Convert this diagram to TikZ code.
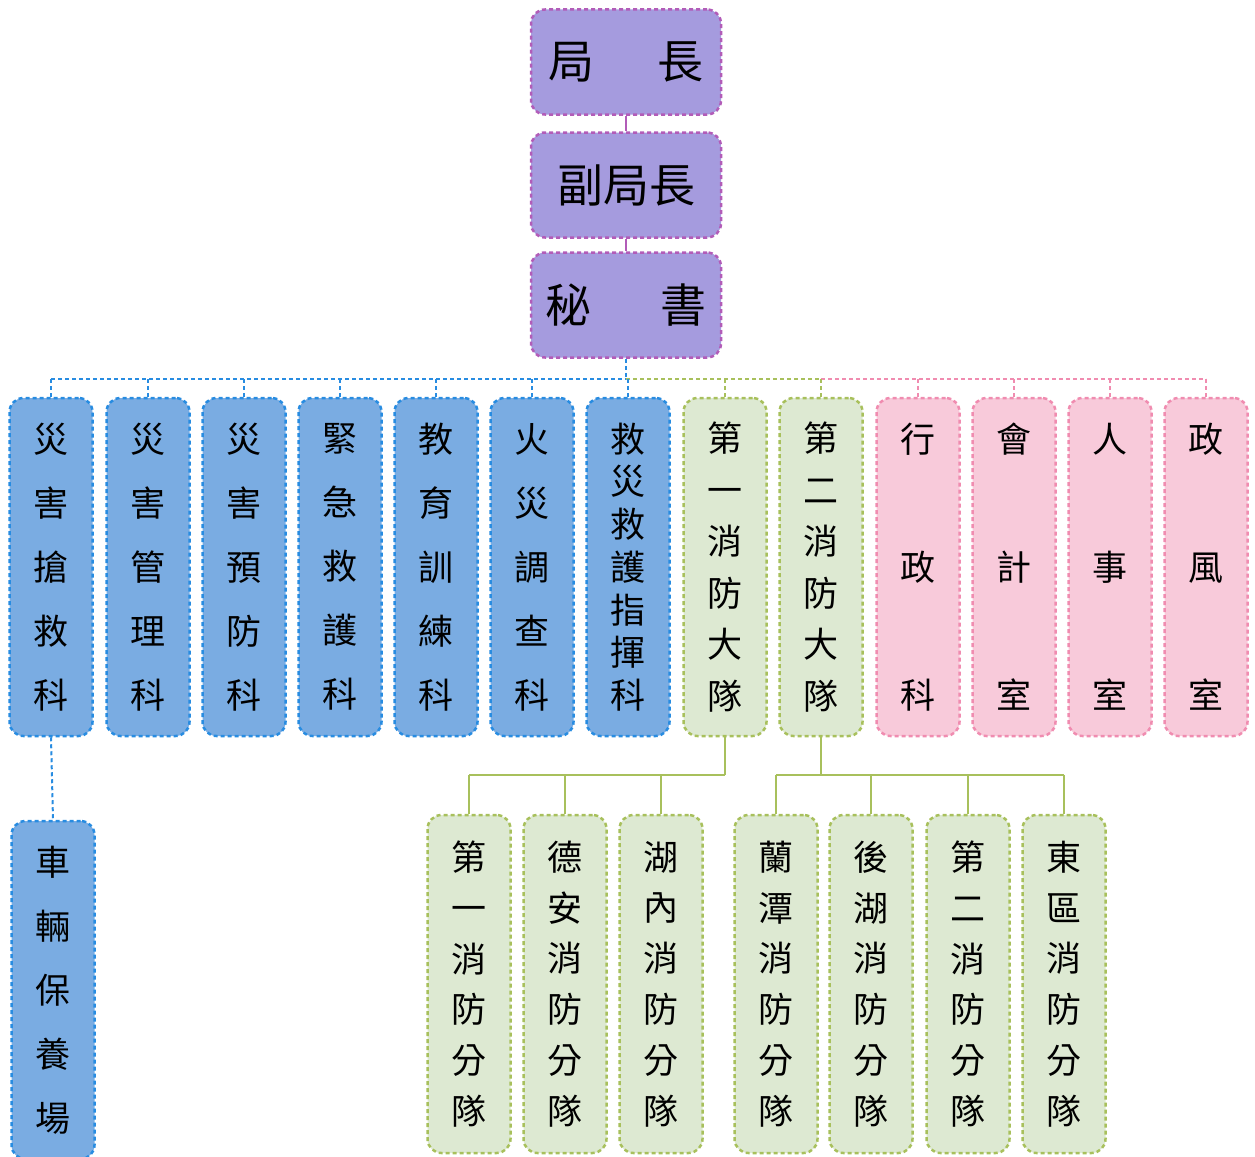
\documentclass[tikz,border=0pt]{standalone}
\usepackage{fontspec}
\newfontfamily\cjk{Noto Sans CJK TC}
\definecolor{purpleFill}{RGB}{165,155,222}
\definecolor{purpleLine}{RGB}{178,92,184}
\definecolor{blueFill}{RGB}{122,172,226}
\definecolor{blueLine}{RGB}{40,140,225}
\definecolor{greenFill}{RGB}{221,233,210}
\definecolor{greenLine}{RGB}{168,192,92}
\definecolor{pinkFill}{RGB}{248,202,218}
\definecolor{pinkLine}{RGB}{240,140,176}
\begin{document}
\begin{tikzpicture}[x=1pt, y=-1pt]
    \tikzstyle{box_base} = [rounded corners=14pt, dash pattern=on 4pt off 3pt, line width=2.5pt, inner sep=0pt, align=center]
    \tikzstyle{box_head} = [box_base, draw=purpleLine, fill=purpleFill, minimum width=190pt, minimum height=105pt, font=\cjk\fontsize{46}{50}\selectfont]
    \tikzstyle{col_base} = [box_base, minimum width=83pt, minimum height=338pt, font=\cjk\fontsize{35}{64}\selectfont]
    \tikzstyle{col_blue} = [col_base, draw=blueLine, fill=blueFill]
    \tikzstyle{col_green} = [col_base, draw=greenLine, fill=greenFill]
    \tikzstyle{col_pink} = [col_base, draw=pinkLine, fill=pinkFill]
    \tikzstyle{edge_blue} = [draw=blueLine, line width=2pt, dash pattern=on 4pt off 3pt]
    \tikzstyle{edge_green} = [draw=greenLine, line width=2pt, dash pattern=on 4pt off 3pt]
    \tikzstyle{edge_pink} = [draw=pinkLine, line width=2pt, dash pattern=on 4pt off 3pt]
    \tikzstyle{edge_squad} = [draw=greenLine, line width=2pt]
    \tikzstyle{edge_head} = [draw=purpleLine, line width=2pt]

    \useasboundingbox (0,0) rectangle (1255,1156);

    % chief, deputy, secretary
    \node[box_head] (h1) at (626,62) {局\hspace{64pt}長};
    \node[box_head] (h2) at (626,185) {副局長};
    \node[box_head] (h3) at (626,305) {秘\hspace{70pt}書};

    % divisions and brigades
    \node[col_blue] (d1) at (51,567) {災\\害\\搶\\救\\科};
    \node[col_blue] (d2) at (148,567) {災\\害\\管\\理\\科};
    \node[col_blue] (d3) at (244,567) {災\\害\\預\\防\\科};
    \node[col_blue] (d4) at (340,567) {緊\\急\\救\\護\\科};
    \node[col_blue] (d5) at (436,567) {教\\育\\訓\\練\\科};
    \node[col_blue] (d6) at (532,567) {火\\災\\調\\查\\科};
    \node[col_blue, font=\cjk\fontsize{35}{42.7}\selectfont] (d7) at (628,567) {救\\災\\救\\護\\指\\揮\\科};
    \node[col_green, font=\cjk\fontsize{35}{51.6}\selectfont] (d8) at (725,567) {第\\一\\消\\防\\大\\隊};
    \node[col_green, font=\cjk\fontsize{35}{51.6}\selectfont] (d9) at (821,567) {第\\二\\消\\防\\大\\隊};
    \node[col_pink, font=\cjk\fontsize{35}{128}\selectfont] (d10) at (918,567) {行\\政\\科};
    \node[col_pink, font=\cjk\fontsize{35}{128}\selectfont] (d11) at (1014,567) {會\\計\\室};
    \node[col_pink, font=\cjk\fontsize{35}{128}\selectfont] (d12) at (1110,567) {人\\事\\室};
    \node[col_pink, font=\cjk\fontsize{35}{128}\selectfont] (d13) at (1206,567) {政\\風\\室};

    % vehicle yard and squads
    \node[col_blue] (v1) at (53,990) {車\\輛\\保\\養\\場};
    \node[col_green, font=\cjk\fontsize{35}{50.8}\selectfont] (s1) at (469,984) {第\\一\\消\\防\\分\\隊};
    \node[col_green, font=\cjk\fontsize{35}{50.8}\selectfont] (s2) at (565,984) {德\\安\\消\\防\\分\\隊};
    \node[col_green, font=\cjk\fontsize{35}{50.8}\selectfont] (s3) at (661,984) {湖\\內\\消\\防\\分\\隊};
    \node[col_green, font=\cjk\fontsize{35}{50.8}\selectfont] (s4) at (776,984) {蘭\\潭\\消\\防\\分\\隊};
    \node[col_green, font=\cjk\fontsize{35}{50.8}\selectfont] (s5) at (871,984) {後\\湖\\消\\防\\分\\隊};
    \node[col_green, font=\cjk\fontsize{35}{50.8}\selectfont] (s6) at (968,984) {第\\二\\消\\防\\分\\隊};
    \node[col_green, font=\cjk\fontsize{35}{50.8}\selectfont] (s7) at (1064,984) {東\\區\\消\\防\\分\\隊};

    \coordinate (bus) at (626,379);
    \coordinate (split) at (821,379);
    \coordinate (left) at (725,775);
    \coordinate (right) at (821,775);

    \draw[edge_head] (h1) -- (h2);
    \draw[edge_head] (h2) -- (h3);
    \draw[edge_blue] (h3) -- (bus);

    \draw[edge_blue] (d1.north |- bus) -- (bus);
    \draw[edge_green] (bus) -- (split);
    \draw[edge_pink] (split) -- (d13.north |- bus);

    \draw[edge_blue] (d1.north |- bus) -- (d1.north);
    \draw[edge_blue] (d2.north |- bus) -- (d2.north);
    \draw[edge_blue] (d3.north |- bus) -- (d3.north);
    \draw[edge_blue] (d4.north |- bus) -- (d4.north);
    \draw[edge_blue] (d5.north |- bus) -- (d5.north);
    \draw[edge_blue] (d6.north |- bus) -- (d6.north);
    \draw[edge_blue] (d7.north |- bus) -- (d7.north);
    \draw[edge_green] (d8.north |- bus) -- (d8.north);
    \draw[edge_green] (d9.north |- bus) -- (d9.north);
    \draw[edge_pink] (d10.north |- bus) -- (d10.north);
    \draw[edge_pink] (d11.north |- bus) -- (d11.north);
    \draw[edge_pink] (d12.north |- bus) -- (d12.north);
    \draw[edge_pink] (d13.north |- bus) -- (d13.north);

    \draw[edge_blue] (d1.south) -- (v1.north);

    \draw[edge_squad] (d8.south) -- (left);
    \draw[edge_squad] (left) -- (s1.north |- left);
    \draw[edge_squad] (s1.north |- left) -- (s1.north);
    \draw[edge_squad] (s2.north |- left) -- (s2.north);
    \draw[edge_squad] (s3.north |- left) -- (s3.north);
    \draw[edge_squad] (d9.south) -- (right);
    \draw[edge_squad] (s4.north |- right) -- (s7.north |- right);
    \draw[edge_squad] (s4.north |- right) -- (s4.north);
    \draw[edge_squad] (s5.north |- right) -- (s5.north);
    \draw[edge_squad] (s6.north |- right) -- (s6.north);
    \draw[edge_squad] (s7.north |- right) -- (s7.north);
\end{tikzpicture}
\end{document}
